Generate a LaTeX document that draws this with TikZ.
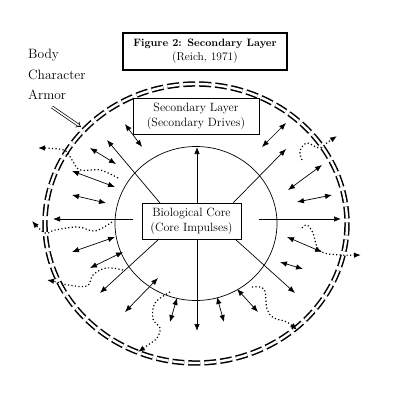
\documentclass[tikz,border=0pt]{standalone}
\usepackage{xcolor}
\usepackage{tikz}
\usetikzlibrary{arrows.meta,positioning}

\tikzset{
	ray/.style={-{Latex[length=7pt,width=5.5pt]},line width=0.7pt},
	twoway/.style={{Latex[length=7pt,width=5.5pt]}-{Latex[length=7pt,width=5.5pt]},line width=0.7pt},
	leak/.style={-{Latex[length=7pt,width=5.5pt]},line width=1.2pt,dash pattern=on 1.2pt off 2.3pt},
	armorline/.style={line width=1.5pt,dash pattern=on 12pt off 4pt,double,double distance=2.4pt},
	layerbox/.style={draw,line width=0.7pt,align=center,inner sep=0pt,font=\fontsize{12}{15}\selectfont},
	sidetext/.style={anchor=west,inner sep=0pt,font=\fontsize{13.5}{15}\selectfont}
}

\begin{document}
\begin{tikzpicture}[x=1pt,y=-1pt]
	\useasboundingbox (0,0) rectangle (400,400);
	% title
	\node[layerbox,line width=2.2pt,minimum width=164pt,minimum height=37pt,font=\fontsize{11.5}{14}\selectfont] (title) at (205,51.5) {{\fontsize{10.7}{14}\selectfont\textbf{Figure 2: Secondary Layer}}\\(Reich, 1971)};
	% armor label
	\node[sidetext] (body) at (28,55) {Body};
	\node[sidetext] (character) at (28,75) {Character};
	\node[sidetext] (armor) at (28,95) {Armor};
	\coordinate (armorfrom) at (52,107);
	\coordinate (armorto) at (81,127);
	\draw[double,double distance=1.6pt,line width=0.7pt,-{Implies[length=7pt]}] (armorfrom) -- (armorto);
	% outer armor and inner core
	\draw[armorline] (196,223.5) ellipse (151 and 139.5);
	\draw[line width=0.7pt] (196,223.5) ellipse (81 and 77);
	% boxes
	\node[layerbox,fill=white,minimum width=126pt,minimum height=36pt] (secondary) at (196,116) {Secondary Layer\\(Secondary Drives)};
	\node[layerbox,fill=white,minimum width=99pt,minimum height=36pt] (core) at (191.5,221) {Biological Core\\(Core Impulses)};
	% impulses from the core
	\draw[ray] (197,203) -- (197,147);
	\draw[ray] (160,203) -- (107,140);
	\draw[ray] (233,203) -- (286,149);
	\draw[ray] (133,219) -- (53,219);
	\draw[ray] (259,219) -- (341,219);
	\draw[ray] (197,239) -- (197,331);
	\draw[ray] (159,239) -- (100,293);
	\draw[ray] (235,239) -- (295,293);
	% secondary drives
	\draw[twoway] (125,124) -- (142,147);
	\draw[twoway] (90,148) -- (116,164);
	\draw[twoway] (72,171) -- (115,187);
	\draw[twoway] (72,195) -- (106,203);
	\draw[twoway] (72,252) -- (115,237);
	\draw[twoway] (90,268) -- (123,252);
	\draw[twoway] (125,312) -- (158,278);
	\draw[twoway] (177,298) -- (170,322);
	\draw[twoway] (217,297) -- (224,322);
	\draw[twoway] (237,289) -- (258,312);
	\draw[twoway] (280,262) -- (303,269);
	\draw[twoway] (287,237) -- (322,252);
	\draw[twoway] (297,202) -- (332,195);
	\draw[twoway] (288,190) -- (322,165);
	\draw[twoway] (262,147) -- (286,123);
	% leaking impulses
	\draw[leak] plot[smooth,tension=0.6] coordinates {(118,178) (100,170) (80,170) (72,160) (64,150) (38,148)};
	\draw[leak] plot[smooth,tension=0.6] coordinates {(112,222) (95,231) (78,227) (55,230) (45,233) (32,221)};
	\draw[leak] plot[smooth,tension=0.6] coordinates {(123,270) (106,268) (93,275) (87,286) (68,285) (57,282) (47,280)};
	\draw[leak] plot[smooth,tension=0.6] coordinates {(170,292) (155,303) (153,319) (160,328) (157,338) (148,345) (138,352)};
	\draw[leak] plot[smooth,tension=0.6] coordinates {(252,287) (264,289) (267,309) (274,318) (287,322) (297,330)};
	\draw[leak] plot[smooth,tension=0.6] coordinates {(302,228) (307,225) (313,233) (317,247) (324,253) (340,255) (361,255)};
	\draw[leak] plot[smooth,tension=0.6] coordinates {(302,160) (300,151) (307,143) (319,148) (328,142) (337,136)};
\end{tikzpicture}
\end{document}
